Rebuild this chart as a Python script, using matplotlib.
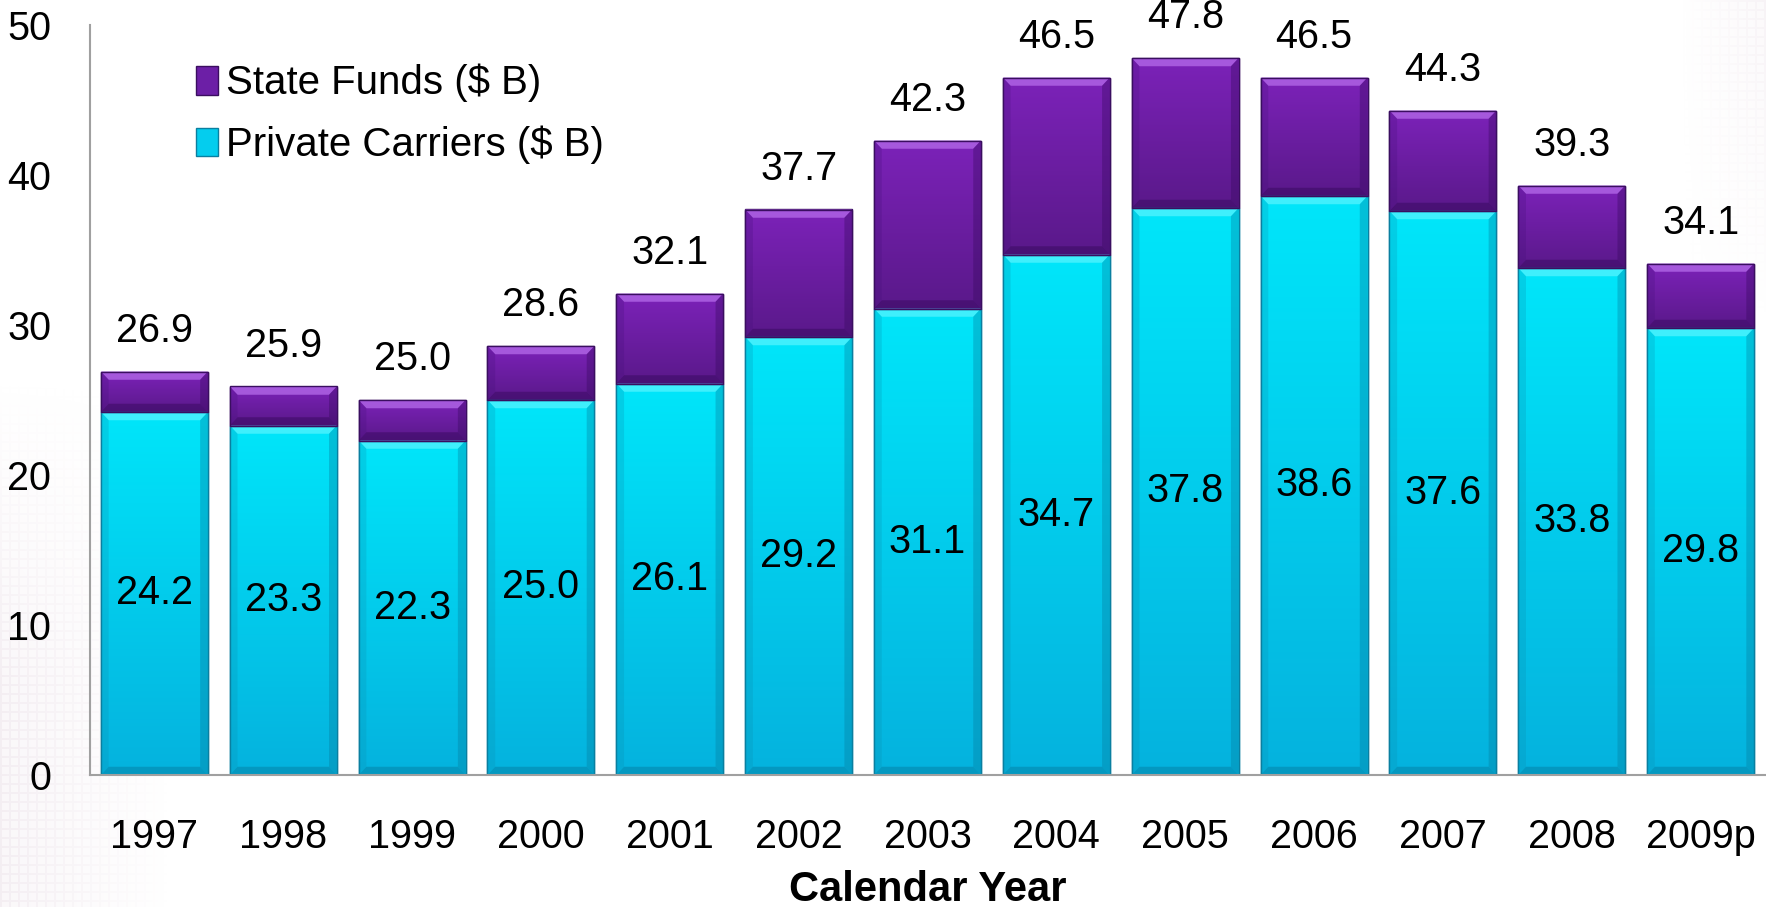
import numpy as np
import matplotlib
matplotlib.use("Agg")
import matplotlib.pyplot as plt
from matplotlib.patches import Polygon
from matplotlib.colors import LinearSegmentedColormap

years = ["1997", "1998", "1999", "2000", "2001", "2002", "2003",
         "2004", "2005", "2006", "2007", "2008", "2009p"]
private = [24.2, 23.3, 22.3, 25.0, 26.1, 29.2, 31.1, 34.7, 37.8, 38.6, 37.6, 33.8, 29.8]
total = [26.9, 25.9, 25.0, 28.6, 32.1, 37.7, 42.3, 46.5, 47.8, 46.5, 44.3, 39.3, 34.1]
state = [round(t - p, 1) for t, p in zip(total, private)]
yticks = [0, 10, 20, 30, 40, 50]

plt.rcParams['font.family'] = ['Liberation Sans', 'DejaVu Sans']

W, H = 1766, 907
fig = plt.figure(figsize=(W / 100, H / 100), dpi=100)

# faint background texture (decoration)
bg = fig.add_axes([0, 0, 1, 1], zorder=-10)
bg.axis('off')
img = np.ones((H, W, 4))
yy, xx = np.mgrid[0:H, 0:W]
grid = ((xx % 9 < 2) | (yy % 9 < 2)).astype(float)
fade_left = np.clip((170 - xx) / 170, 0, 1) * np.clip((yy - 380) / 300, 0, 1)
fade_right = np.clip((xx - 1680) / 86, 0, 1) * np.clip((320 - yy) / 320, 0, 1)
alpha = (0.10 + 0.12 * grid) * (fade_left + fade_right * 0.7)
img[..., 0] = 0.80
img[..., 1] = 0.70
img[..., 2] = 0.78
img[..., 3] = np.clip(alpha, 0, 1)
bg.imshow(img, extent=(0, 1, 0, 1), aspect='auto')

ax = fig.add_axes([90 / W, (H - 775) / H, 1675 / W, 750 / H])
ax.set_facecolor('none')
x = np.arange(len(years))
bw = 0.83

cyan_mid = '#04CDEE'
purple_mid = '#6C1FA6'
b1 = ax.bar(x, private, width=bw, color=cyan_mid, edgecolor='#0A7FA0', linewidth=1.0, zorder=2,
            label='Private Carriers ($ B)')
b2 = ax.bar(x, state, width=bw, bottom=private, color=purple_mid, edgecolor='#3A0E60',
            linewidth=1.0, zorder=2, label='State Funds ($ B)')

ax.set_xlim(-0.5, len(years) - 0.5)
ax.set_ylim(0, 50)

cm_cyan = LinearSegmentedColormap.from_list('c', ['#05B2DE', '#00E6FA'])
cm_purp = LinearSegmentedColormap.from_list('p', ['#5A198A', '#7C22B9'])
grad = np.linspace(0, 1, 256).reshape(-1, 1)

dx, dy = 0.06, 0.55

def decorate(patch, cmap, light, la, dark, side):
    x0, y0 = patch.get_x(), patch.get_y()
    w, h = patch.get_width(), patch.get_height()
    x1, y1 = x0 + w, y0 + h
    im = ax.imshow(grad, cmap=cmap, extent=(x0, x1, y0, y1), origin='lower',
                   aspect='auto', zorder=2.1)
    im.set_clip_path(patch)
    polys = [
        ([(x0, y1), (x1, y1), (x1 - dx, y1 - dy), (x0 + dx, y1 - dy)], light, la),
        ([(x0, y0), (x1, y0), (x1 - dx, y0 + dy), (x0 + dx, y0 + dy)], dark, 0.45),
        ([(x0, y0), (x0, y1), (x0 + dx, y1 - dy), (x0 + dx, y0 + dy)], side, 0.25),
        ([(x1, y0), (x1, y1), (x1 - dx, y1 - dy), (x1 - dx, y0 + dy)], dark, 0.35),
    ]
    for pts, col, a in polys:
        ax.add_patch(Polygon(pts, closed=True, facecolor=col, edgecolor='none',
                             alpha=a, zorder=2.2))
    ax.add_patch(Polygon([(x0, y0), (x0, y1), (x1, y1), (x1, y0)], closed=True,
                         facecolor='none', edgecolor=patch.get_edgecolor(),
                         linewidth=1.0, zorder=2.3))

for p in b1.patches:
    decorate(p, cm_cyan, '#7FFAFF', 0.5, '#067A9C', '#0A8FB0')
for p in b2.patches:
    decorate(p, cm_purp, '#B56BEA', 0.75, '#34085A', '#45107A')

for i in range(len(years)):
    ax.text(x[i], private[i] / 2, f"{private[i]:.1f}", ha='center', va='center',
            fontsize=28.5, color='black', zorder=3)
    ax.text(x[i], total[i] + 2.7, f"{total[i]:.1f}", ha='center', va='center',
            fontsize=28.5, color='black', zorder=3, clip_on=False)

for s in ['top', 'right']:
    ax.spines[s].set_visible(False)
for s in ['left', 'bottom']:
    ax.spines[s].set_color('#A0A0A0')
    ax.spines[s].set_linewidth(1.5)

ax.set_yticks(yticks)
ax.set_yticklabels([str(v) for v in yticks])
ax.set_xticks(x)
ax.set_xticklabels(years)
ax.tick_params(axis='y', length=0, labelsize=28.5, pad=28)
ax.tick_params(axis='x', length=0, labelsize=28.5, pad=31)
ax.set_xlabel('Calendar Year', fontsize=30, fontweight='bold', labelpad=10)

leg = ax.legend(handles=[b2, b1], labels=['State Funds ($ B)', 'Private Carriers ($ B)'],
                loc='upper left', bbox_to_anchor=(0.063, 0.948), frameon=False,
                fontsize=29, handlelength=0.55, handleheight=0.7, handletextpad=0.2,
                labelspacing=0.58, borderpad=0, borderaxespad=0)

fig.savefig('out.png', dpi=100)
